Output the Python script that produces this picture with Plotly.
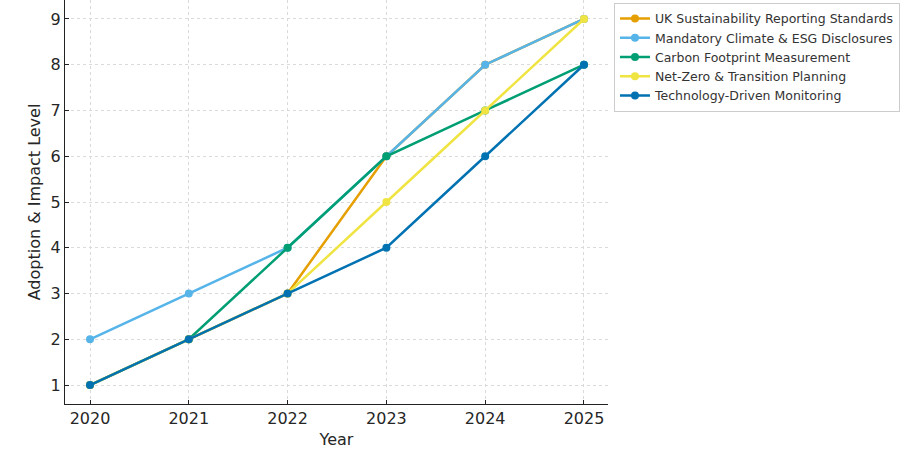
import plotly.graph_objects as go

years = [2020, 2021, 2022, 2023, 2024, 2025]
series_names = [
    "UK Sustainability Reporting Standards",
    "Mandatory Climate & ESG Disclosures",
    "Carbon Footprint Measurement",
    "Net-Zero & Transition Planning",
    "Technology-Driven Monitoring",
]
uk_standards = [1, 2, 3, 6, 8, 9]
mandatory_disclosures = [2, 3, 4, 6, 8, 9]
carbon_footprint = [1, 2, 4, 6, 7, 8]
net_zero = [1, 2, 3, 5, 7, 9]
tech_monitoring = [1, 2, 3, 4, 6, 8]
colors = ["#E69F00", "#56B4E9", "#009E73", "#F0E442", "#0072B2"]

values = [uk_standards, mandatory_disclosures, carbon_footprint, net_zero, tech_monitoring]

fig = go.Figure()
for name, vals, c in zip(series_names, values, colors):
    fig.add_trace(go.Scatter(
        x=years, y=vals, name=name, mode="lines+markers",
        line=dict(color=c, width=2.5),
        marker=dict(color=c, size=8),
    ))

fig.update_layout(
    width=907, height=460,
    margin=dict(l=65, r=299, t=0, b=56, autoexpand=False),
    paper_bgcolor="white", plot_bgcolor="white",
    font=dict(family="DejaVu Sans", color="#262626"),
    legend=dict(
        x=1.011, y=0.993, xanchor="left", yanchor="top",
        bgcolor="white", bordercolor="#cccccc", borderwidth=1,
        font=dict(size=12.5, color="#333333"),
        tracegroupgap=0,
    ),
    showlegend=True,
)
fig.update_xaxes(
    title=dict(text="Year", font=dict(size=16), standoff=6),
    range=[2019.747, 2025.243],
    tickvals=years, ticktext=[str(y) for y in years],
    tickfont=dict(size=16),
    showgrid=True, gridcolor="#dadada", griddash="3px,3px", gridwidth=0.8,
    showline=True, linecolor="#222222", linewidth=1.2,
    ticks="inside", ticklen=4, tickcolor="#222222",
    zeroline=False, mirror=False, automargin=False,
)
fig.update_yaxes(
    title=dict(text="Adoption & Impact Level", font=dict(size=16), standoff=5),
    range=[0.585, 9.415],
    tickvals=[1, 2, 3, 4, 5, 6, 7, 8, 9],
    tickfont=dict(size=16),
    showgrid=True, gridcolor="#dadada", griddash="3px,3px", gridwidth=0.8,
    showline=True, linecolor="#222222", linewidth=1.2,
    ticks="inside", ticklen=4, tickcolor="#222222",
    zeroline=False, mirror=False, automargin=False,
)

fig.write_html(
    "out.html",
    config={"displayModeBar": False},
    post_script="document.body.style.margin='0';document.body.style.overflow='hidden';",
)
